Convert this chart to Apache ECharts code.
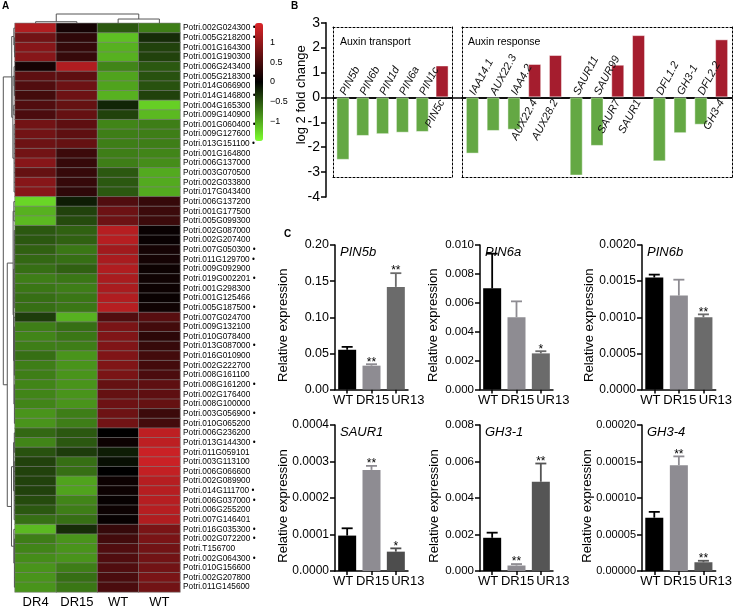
<!DOCTYPE html>
<html><head><meta charset="utf-8">
<script src="https://cdn.jsdelivr.net/npm/echarts/dist/echarts.min.js"></script>
<style>html,body{margin:0;padding:0;background:#fff}#c{width:735px;height:609px}</style>
</head><body><div id="c"></div>
<script>
// ================= Panel A: heatmap data =================
const heatCols = ['DR4', 'DR15', 'WT', 'WT'];
const heatGenes = [
 'Potri.002G024300','Potri.005G218200','Potri.001G164300','Potri.001G190300','Potri.006G243400',
 'Potri.005G218300','Potri.014G066900','Potri.014G146800','Potri.004G165300','Potri.009G140900',
 'Potri.001G060400','Potri.009G127600','Potri.013G151100','Potri.001G164800','Potri.006G137000',
 'Potri.003G070500','Potri.002G033800','Potri.017G043400','Potri.006G137200','Potri.001G177500',
 'Potri.005G099300','Potri.002G087000','Potri.002G207400','Potri.007G050300','Potri.011G129700',
 'Potri.009G092900','Potri.019G002201','Potri.001G298300','Potri.001G125466','Potri.005G187500',
 'Potri.007G024700','Potri.009G132100','Potri.010G078400','Potri.013G087000','Potri.016G010900',
 'Potri.002G222700','Potri.008G161100','Potri.008G161200','Potri.002G176400','Potri.008G100000',
 'Potri.003G056900','Potri.010G065200','Potri.006G236200','Potri.013G144300','Potri.011G059101',
 'Potri.003G113100','Potri.006G066600','Potri.002G089900','Potri.014G111700','Potri.006G037000',
 'Potri.006G255200','Potri.007G146401','Potri.016G035300','Potri.002G072200','Potri.T156700',
 'Potri.002G064300','Potri.010G156600','Potri.002G207800','Potri.011G145600'
];
const flaggedGenes = [
 'Potri.002G024300','Potri.005G218200','Potri.005G218300','Potri.014G146800','Potri.001G060400',
 'Potri.013G151100','Potri.007G050300','Potri.011G129700','Potri.019G002201','Potri.005G187500',
 'Potri.013G087000','Potri.008G161200','Potri.003G056900','Potri.013G144300','Potri.014G111700',
 'Potri.006G037000','Potri.016G035300','Potri.002G072200','Potri.002G064300'
];
const heatDR4 = [1.2,0.78,0.92,0.92,0.14,0.64,0.55,0.46,0.55,0.51,0.78,0.78,0.74,0.78,0.92,0.69,0.92,0.92,
 -1.26,-1.04,-1.09,-0.52,-0.52,-0.57,-0.61,-0.65,-0.74,-0.7,-0.65,-0.65,-0.35,-0.74,-0.78,-0.74,-0.65,-0.74,-0.74,
 -0.78,-0.78,-0.78,-0.87,-0.87,-0.61,-0.78,-0.48,-0.39,-0.39,-0.39,-0.39,-0.44,-0.52,-0.65,-1.09,-0.74,-0.78,-0.83,-0.87,-0.87,-0.87];
const heatDR15 = [0.14,0.32,0.37,0.37,1.2,0.64,0.74,0.74,0.69,0.69,0.64,0.64,0.69,0.41,0.37,0.37,0.37,0.32,
 -0.17,-0.39,-0.44,-0.57,-0.57,-0.7,-0.65,-0.57,-0.7,-0.74,-0.7,-0.7,-1.04,-0.65,-0.7,-0.74,-0.87,-0.87,-0.87,
 -0.87,-0.87,-0.87,-0.74,-0.74,-0.52,-0.52,-0.35,-0.65,-0.65,-0.96,-0.96,-0.78,-0.74,-0.65,-0.26,-0.87,-0.87,-0.87,-0.74,-0.65,-0.7];
const heatWT1 = [-0.52,-1.13,-1.04,-1.04,-0.78,-0.96,-0.96,-1.04,-0.22,-0.39,-0.78,-0.74,-0.74,-0.74,-0.74,-0.52,-0.52,-0.52,
 0.55,0.74,0.74,1.24,1.24,1.1,1.15,1.2,1.15,1.15,1.2,1.24,0.55,0.83,0.87,0.87,0.87,0.87,0.83,
 0.69,0.69,0.74,0.74,0.78,0.0,0.09,-0.17,-0.09,0.0,0.09,0.09,0.05,0.09,0.05,0.37,0.46,0.55,0.55,0.55,0.51,0.51];
const heatWT2 = [-0.74,-0.26,-0.39,-0.39,-0.52,-0.48,-0.48,-0.39,-1.22,-1.09,-0.74,-0.74,-0.74,-0.78,-0.83,-1.0,-1.0,-1.0,
 0.37,0.41,0.41,0.06,0.06,0.14,0.14,0.09,0.11,0.09,0.07,0.11,0.6,0.46,0.3,0.37,0.46,0.46,0.51,
 0.64,0.64,0.69,0.41,0.46,1.29,1.29,1.38,1.38,1.33,1.24,1.24,1.24,1.24,1.2,0.83,0.83,0.78,0.78,0.78,0.83,0.78];
const colorbarRange = [-1.5, 1.5];
// dendrograms: [height, child, child, ...], leaves = row/column index
const rowTree = [1.0,
  [0.28,
    [0.1, 0, [0.05, 1, [0.03, 2, 3]]],
    [0.18, [0.08, 4, [0.05, 5, 6, 7]], [0.1, 8, 9], [0.08, 10, 11, 12, 13, 14, 15, 16, 17]]],
  [0.66,
    [0.16, [0.1, 18, 19, 20], [0.12, [0.06, 21, 22, 23, 24, 25, 26, 27, 28, 29],
        [0.09, 30, [0.05, 31, 32, 33, 34, 35, 36], [0.05, 37, 38, 39, 40, 41]]]],
    [0.3, [0.12, [0.06, 42, 43, 44], [0.07, 45, 46, 47, 48, 49, 50, 51]], [0.1, 52, [0.05, 53, 54, 55, 56, 57, 58]]]]
];
const colTree = [1.0, [0.17, 0, 1], [0.46, 2, 3]];

// ================= Panel B data =================
const transportGenes = ['PIN5b','PIN6b','PIN1d','PIN6a','PIN1c','PIN5c'];
const transportFC = [-2.51,-1.55,-1.48,-1.42,-1.39,1.28];
const responseGenes = ['IAA14.1','AUX22.3','IAA4.2','AUX22.4','AUX28.2','SAUR11','SAUR99','SAUR7','SAUR1','DFL1.2','GH3-1','DFL2.2','GH3-4'];
const responseFC = [-2.26,-1.35,-1.30,1.34,1.70,-3.14,-1.95,1.31,2.50,-2.57,-1.44,-1.10,2.33];
const fcTicks = [-4, 3, 1];

// ================= Panel C data =================
const qCats = ['WT','DR15','UR13'];
const pin5bMean = [0.055, 0.033, 0.142], pin5bErr = [0.004, 0.002, 0.019], pin5bSig = ['', '**', '**'];
const pin6aMean = [0.0070, 0.0050, 0.0025], pin6aErr = [0.0024, 0.0011, 0.00015], pin6aSig = ['', '', '*'];
const pin6bMean = [0.00155, 0.0013, 0.0010], pin6bErr = [0.00004, 0.00022, 0.00004], pin6bSig = ['', '', '**'];
const saur1Mean = [0.000097, 0.000277, 0.000053], saur1Err = [0.00002, 0.000011, 0.000009], saur1Sig = ['', '**', '*'];
const gh31Mean = [0.00182, 0.00030, 0.00489], gh31Err = [0.00028, 0.00008, 0.00100], gh31Sig = ['', '**', '**'];
const gh34Mean = [0.000073, 0.000145, 0.000012], gh34Err = [0.000008, 0.000012, 0.000002], gh34Sig = ['', '**', '**'];

// ================= build =================
const FF = '"Liberation Sans", Arial, Helvetica, sans-serif';
const chart = echarts.init(document.getElementById('c'));

const heatData = [];
[heatDR4, heatDR15, heatWT1, heatWT2].forEach((arr, c) => arr.forEach((v, r) => heatData.push([c, r, v])));
const rowLabels = heatGenes.map(g => flaggedGenes.indexOf(g) >= 0 ? g + ' \u2022' : g);

function nodePos(n) { return typeof n === 'number' ? n : (nodePos(n[1]) + nodePos(n[n.length - 1])) / 2; }
function nodeH(n) { return typeof n === 'number' ? 0 : n[0]; }
function seg(a, b) { return {type: 'line', shape: {x1: a[0], y1: a[1], x2: b[0], y2: b[1]}, style: {stroke: '#555', lineWidth: 1}}; }
function drawTree(n, map, out) {
  if (typeof n === 'number') return;
  const h = n[0], kids = n.slice(1);
  kids.forEach(k => { const p = nodePos(k); out.push(seg(map(p, nodeH(k)), map(p, h))); drawTree(k, map, out); });
  out.push(seg(map(nodePos(kids[0]), h), map(nodePos(kids[kids.length - 1]), h)));
}
function dendroRender(params, api) {
  const p00 = api.coord([0, 0]), p11 = api.coord([1, 1]);
  const bw = p11[0] - p00[0], bh = p11[1] - p00[1];
  const leftEdge = p00[0] - bw / 2, topEdge = p00[1] - bh / 2;
  const out = [];
  drawTree(rowTree, (pos, h) => [leftEdge - h * 11.7, p00[1] + pos * bh], out);
  drawTree(colTree, (pos, h) => [p00[0] + pos * bw, topEdge - h * 9.3], out);
  return {type: 'group', children: out};
}

const blk = {color: '#000', width: 1.5};
function dotted(o) {
  return Object.assign({axisLine: {show: true, onZero: false, lineStyle: {color: '#000', width: 1, type: [2, 2]}},
    axisTick: {show: false}, axisLabel: {show: false}, splitLine: {show: false}}, o);
}
function fcItems(vals) {
  return vals.map(v => ({value: v, itemStyle: {color: v < 0 ? '#64a844' : '#a51d2e'},
    label: v < 0 ? {position: 'top', align: 'left', verticalAlign: 'middle'} : {position: 'bottom', align: 'right', verticalAlign: 'middle'}}));
}
const fcLabel = {show: true, formatter: p => p.name, rotate: 62, distance: 3, fontStyle: 'italic', fontSize: 11, color: '#111', fontFamily: FF};

const titles = [
  {text: 'A', left: 2, top: 1}, {text: 'B', left: 291, top: 1}, {text: 'C', left: 284, top: 229}
].map(t => Object.assign(t, {padding: 0, textStyle: {fontSize: 10, fontWeight: 'bold', color: '#000', fontFamily: FF}}));
titles.push({text: 'Auxin transport', left: 340, top: 37, padding: 0, textStyle: {fontSize: 10.5, fontWeight: 'normal', color: '#000', fontFamily: FF}});
titles.push({text: 'Auxin response', left: 468, top: 37, padding: 0, textStyle: {fontSize: 10.5, fontWeight: 'normal', color: '#000', fontFamily: FF}});

const grids = [
  {left: 15, top: 23.3, width: 165, height: 569.7},
  {left: 326, top: 22.7, width: 406, height: 174.3},
  {left: 333, top: 26.9, width: 119, height: 150.1},
  {left: 462, top: 26.9, width: 270, height: 150.1},
  {left: 263, top: 23, width: 1, height: 118}
];
const xAxes = [
  {gridIndex: 0, type: 'category', data: heatCols, position: 'bottom', axisLine: {show: false}, axisTick: {show: false},
   axisLabel: {fontSize: 13, color: '#000', margin: 4, interval: 0, fontFamily: FF}, splitLine: {show: false}},
  {gridIndex: 1, type: 'value', min: 0, max: 1, axisLine: {show: true, onZero: true, lineStyle: blk}, axisTick: {show: false}, axisLabel: {show: false}, splitLine: {show: false}},
  {gridIndex: 2, type: 'category', data: transportGenes, axisLine: {show: true, onZero: true, lineStyle: blk}, axisTick: {length: 4, lineStyle: blk}, axisLabel: {show: false}},
  dotted({gridIndex: 2, type: 'category', data: transportGenes, position: 'top'}),
  dotted({gridIndex: 2, type: 'category', data: transportGenes, position: 'bottom'}),
  {gridIndex: 3, type: 'category', data: responseGenes, axisLine: {show: true, onZero: true, lineStyle: blk}, axisTick: {length: 4, lineStyle: blk}, axisLabel: {show: false}},
  dotted({gridIndex: 3, type: 'category', data: responseGenes, position: 'top'}),
  dotted({gridIndex: 3, type: 'category', data: responseGenes, position: 'bottom'}),
  {gridIndex: 4, type: 'value', show: false}
];
const yAxes = [
  {gridIndex: 0, type: 'category', data: rowLabels, inverse: true, position: 'right', axisLine: {show: false}, axisTick: {show: false},
   axisLabel: {fontSize: 8.3, color: '#000', margin: 3, interval: 0, fontFamily: FF}},
  {gridIndex: 1, type: 'value', min: fcTicks[0], max: fcTicks[1], interval: fcTicks[2], axisLine: {show: true, lineStyle: blk},
   axisTick: {show: true, length: 5, lineStyle: blk}, axisLabel: {fontSize: 14, color: '#000', margin: 6, fontFamily: FF}, splitLine: {show: false},
   name: 'log 2 fold change', nameLocation: 'middle', nameGap: 18, nameMoveOverlap: false,
   nameTextStyle: {fontSize: 13, color: '#000', fontFamily: FF, padding: [0, 0, 0, 30]}},
  dotted({gridIndex: 2, type: 'value', min: -3.2, max: 2.83, position: 'left'}),
  dotted({gridIndex: 2, type: 'value', min: -3.2, max: 2.83, position: 'right'}),
  dotted({gridIndex: 3, type: 'value', min: -3.2, max: 2.83, position: 'left'}),
  dotted({gridIndex: 3, type: 'value', min: -3.2, max: 2.83, position: 'right'}),
  {gridIndex: 4, type: 'value', min: colorbarRange[0], max: colorbarRange[1], interval: 0.5, position: 'right',
   axisLine: {show: false}, axisTick: {show: false}, splitLine: {show: false},
   axisLabel: {fontSize: 9, color: '#000', margin: 6, showMinLabel: false, showMaxLabel: false, fontFamily: FF,
     formatter: v => v < 0 ? '\u2212' + Math.abs(v) : String(v)}}
];
const series = [
  {type: 'heatmap', xAxisIndex: 0, yAxisIndex: 0, data: heatData, itemStyle: {borderColor: '#7f7f7f', borderWidth: 0.6}, emphasis: {disabled: true}},
  {type: 'custom', xAxisIndex: 0, yAxisIndex: 0, data: [[0, 0]], renderItem: dendroRender, silent: true, clip: false, z: 5},
  {type: 'bar', xAxisIndex: 2, yAxisIndex: 2, data: fcItems(transportFC), barWidth: 13, label: fcLabel,
   itemStyle: {borderColor: 'rgba(255,255,255,0.45)', borderWidth: 1}},
  {type: 'bar', xAxisIndex: 5, yAxisIndex: 4, data: fcItems(responseFC), barWidth: 13, label: fcLabel,
   itemStyle: {borderColor: 'rgba(255,255,255,0.45)', borderWidth: 1}}
];

const cPanels = [
  {gene: 'PIN5b', mean: pin5bMean, err: pin5bErr, sig: pin5bSig, max: 0.20, step: 0.05, dec: 2, ur: '#6b6b6b', fs: 12.5, g: {left: 335, top: 245, width: 73, height: 144.5}, gap: 45},
  {gene: 'PIN6a', mean: pin6aMean, err: pin6aErr, sig: pin6aSig, max: 0.010, step: 0.002, dec: 3, ur: '#6b6b6b', fs: 11.5, g: {left: 480, top: 245, width: 73, height: 144.5}, gap: 40.5},
  {gene: 'PIN6b', mean: pin6bMean, err: pin6bErr, sig: pin6bSig, max: 0.0020, step: 0.0005, dec: 4, ur: '#6b6b6b', fs: 12, g: {left: 642, top: 245, width: 74, height: 144.5}, gap: 46},
  {gene: 'SAUR1', mean: saur1Mean, err: saur1Err, sig: saur1Sig, max: 0.0004, step: 0.0001, dec: 4, ur: '#4d4d4d', fs: 12, g: {left: 335, top: 425, width: 73, height: 146}, gap: 45},
  {gene: 'GH3-1', mean: gh31Mean, err: gh31Err, sig: gh31Sig, max: 0.008, step: 0.002, dec: 3, ur: '#555555', fs: 11.5, g: {left: 480, top: 425, width: 73, height: 146}, gap: 39.5},
  {gene: 'GH3-4', mean: gh34Mean, err: gh34Err, sig: gh34Sig, max: 0.00020, step: 0.00005, dec: 5, ur: '#5a5a5a', fs: 11, g: {left: 642, top: 425, width: 74, height: 146}, gap: 48}
];
function errorBars(colors, sig) {
  return function (params, api) {
    const i = api.value(0), m = api.value(1), e = api.value(2);
    const base = api.coord([i, m]), top = api.coord([i, m + e]);
    const c = colors[params.dataIndex], w = 5.5;
    const kids = [
      {type: 'line', shape: {x1: base[0], y1: base[1], x2: top[0], y2: top[1]}, style: {stroke: c, lineWidth: 1.8}},
      {type: 'line', shape: {x1: top[0] - w, y1: top[1], x2: top[0] + w, y2: top[1]}, style: {stroke: c, lineWidth: 1.8}}
    ];
    const s = sig[params.dataIndex];
    if (s) kids.push({type: 'text', style: {text: s, x: top[0], y: top[1] + 4, align: 'center', verticalAlign: 'bottom', font: '12px ' + FF, fill: '#000'}});
    return {type: 'group', children: kids};
  };
}
cPanels.forEach((p, k) => {
  const gi = grids.length;
  grids.push(p.g);
  const colors = ['#000000', '#8e8c92', p.ur];
  const xi = xAxes.length, yi = yAxes.length;
  xAxes.push({gridIndex: gi, type: 'category', data: qCats, axisLine: {show: true, lineStyle: blk},
    axisTick: {show: true, alignWithLabel: true, length: 4, lineStyle: blk},
    axisLabel: {interval: 0, fontSize: 13, color: '#000', margin: 4, fontFamily: FF,
      formatter: v => v === 'WT' ? '{w|WT}' : v === 'DR15' ? '{d|DR15}' : '{u|UR13}',
      rich: {w: {padding: [0, 8, 0, 0]}, d: {padding: [0, 0, 0, 2]}, u: {padding: [0, 0, 0, 24]}}}});
  yAxes.push({gridIndex: gi, type: 'value', min: 0, max: p.max, interval: p.step, axisLine: {show: true, lineStyle: blk},
    axisTick: {show: true, length: 5, lineStyle: blk}, splitLine: {show: false},
    axisLabel: {fontSize: p.fs, color: '#000', margin: 6, fontFamily: FF, formatter: v => v.toFixed(p.dec)},
    name: 'Relative expression', nameLocation: 'middle', nameGap: p.gap, nameMoveOverlap: false,
    nameTextStyle: {fontSize: 13, color: '#000', fontFamily: FF, padding: [0, 16, 0, 0]}});
  series.push({type: 'bar', xAxisIndex: xi, yAxisIndex: yi, barWidth: 18,
    data: p.mean.map((v, i) => ({value: v, itemStyle: {color: colors[i]}}))});
  series.push({type: 'custom', xAxisIndex: xi, yAxisIndex: yi, renderItem: errorBars(colors, p.sig), z: 3,
    encode: {x: 0, y: 1}, data: p.mean.map((m, i) => [i, m, p.err[i]])});
  titles.push({text: p.gene, left: p.g.left + 5, top: p.g.top + 1, padding: 0,
    textStyle: {fontSize: 13, fontStyle: 'italic', fontWeight: 'normal', color: '#000', fontFamily: FF}});
});

chart.setOption({
  animation: false,
  backgroundColor: '#fff',
  title: titles,
  grid: grids,
  xAxis: xAxes,
  yAxis: yAxes,
  visualMap: {type: 'continuous', seriesIndex: 0, min: colorbarRange[0], max: colorbarRange[1], orient: 'vertical',
    left: 255, top: 23, itemWidth: 8, itemHeight: 118, padding: 0, calculable: false, showLabel: false,
    inRange: {color: ['#7dff2e', '#000000', '#dc2428']}},
  series: series
});
</script></body></html>
